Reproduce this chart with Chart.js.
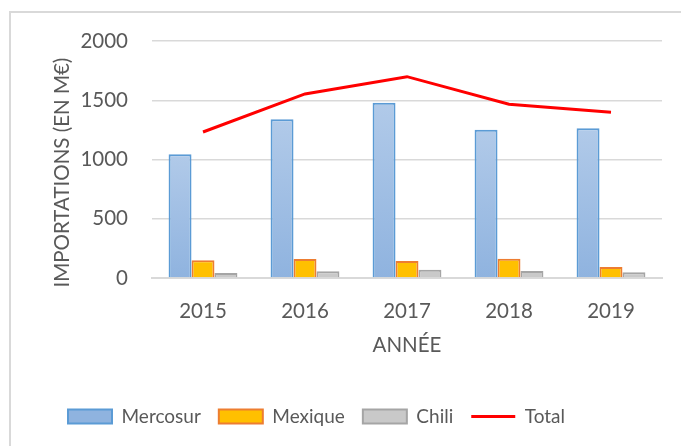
<!DOCTYPE html>
<html>
<head>
<meta charset="utf-8">
<script src="https://cdn.jsdelivr.net/npm/chart.js@4"></script>
<style>
  html, body { margin: 0; padding: 0; background: #ffffff; }
  #wrap { position: relative; width: 681px; height: 446px; }
</style>
</head>
<body>
<div id="wrap"><canvas id="c" width="681" height="446"></canvas></div>
<script>
const years = ['2015', '2016', '2017', '2018', '2019'];
const mercosur = [1045, 1339, 1479, 1251, 1263];
const mexique = [149, 160, 143, 163, 93];
const chili = [42, 56, 70, 59, 48];
const total = [1232, 1553, 1699, 1466, 1398];
const yTicks = [0, 500, 1000, 1500, 2000];

const FONT = 'Lato, "Liberation Sans", sans-serif';
const TXT = '#595959';

function mercoFill(c) {
  const chart = c.chart;
  if (!chart.chartArea || c.type !== 'data' || !c.parsed) return '#a4c2e6';
  const ys = chart.scales.y;
  const top = ys.getPixelForValue(c.parsed.y);
  const bot = ys.getPixelForValue(0);
  if (!isFinite(top) || !isFinite(bot) || bot - top < 1) return '#a4c2e6';
  const g = chart.ctx.createLinearGradient(0, top, 0, bot);
  g.addColorStop(0, '#b1cae9');
  g.addColorStop(1, '#8fb3df');
  return g;
}

const frame = {
  id: 'frame',
  beforeDraw(chart) {
    const ctx = chart.ctx;
    ctx.save();
    ctx.strokeStyle = '#d9d9d9';
    ctx.lineWidth = 2;
    ctx.beginPath();
    ctx.moveTo(10, 446);
    ctx.lineTo(10, 12);
    ctx.lineTo(681, 12);
    ctx.stroke();
    ctx.restore();
  }
};

new Chart(document.getElementById('c'), {
  type: 'bar',
  data: {
    labels: years,
    datasets: [
      { label: 'Mercosur', data: mercosur, backgroundColor: mercoFill, borderColor: '#5b9bd5', borderWidth: 2, pointStyle: 'rect', order: 1 },
      { label: 'Mexique', data: mexique, backgroundColor: '#ffc000', borderColor: '#ed7d31', borderWidth: 2, pointStyle: 'rect', order: 1 },
      { label: 'Chili', data: chili, backgroundColor: '#c9c9c9', borderColor: '#a5a5a5', borderWidth: 2, pointStyle: 'rect', order: 1 },
      { type: 'line', label: 'Total', data: total, borderColor: '#ff0000', backgroundColor: '#ff0000', borderWidth: 3, pointRadius: 0, pointStyle: 'line', tension: 0, order: 0 }
    ]
  },
  options: {
    responsive: false,
    animation: false,
    devicePixelRatio: 1,
    categoryPercentage: 0.675,
    barPercentage: 1,
    layout: { padding: { left: 50, right: 19, top: 41, bottom: 10 } },
    plugins: {
      tooltip: { enabled: false },
      legend: {
        position: 'bottom',
        align: 'start',
        labels: {
          usePointStyle: true,
          pointStyleWidth: 44,
          boxHeight: 14,
          padding: 18,
          color: TXT,
          font: { family: FONT, size: 19 },
          sort: (a, b) => a.datasetIndex - b.datasetIndex
        }
      }
    },
    scales: {
      x: {
        grid: { display: false, drawTicks: false },
        border: { display: true, color: '#d9d9d9', width: 2 },
        ticks: { color: TXT, font: { family: FONT, size: 20.5 }, padding: 21 },
        title: { display: true, text: 'ANNÉE', color: TXT, font: { family: FONT, size: 20.5 }, padding: { top: 0, bottom: 31 } },
        afterFit(s) { s.height = 111; }
      },
      y: {
        min: 0, max: 2000,
        afterBuildTicks(s) { s.ticks = yTicks.map(v => ({ value: v })); },
        grid: { color: '#d9d9d9', lineWidth: 1.5, drawTicks: false },
        border: { display: false },
        ticks: { color: TXT, font: { family: FONT, size: 20.5 }, padding: 24, callback: v => String(v) },
        title: { display: true, text: 'IMPORTATIONS (EN M€)\u00A0\u00A0\u00A0\u00A0\u00A0', color: TXT, font: { family: FONT, size: 20.5 }, padding: 0 },
        afterFit(s) { s.width = 102; }
      }
    }
  },
  plugins: [frame]
});
</script>
</body>
</html>
